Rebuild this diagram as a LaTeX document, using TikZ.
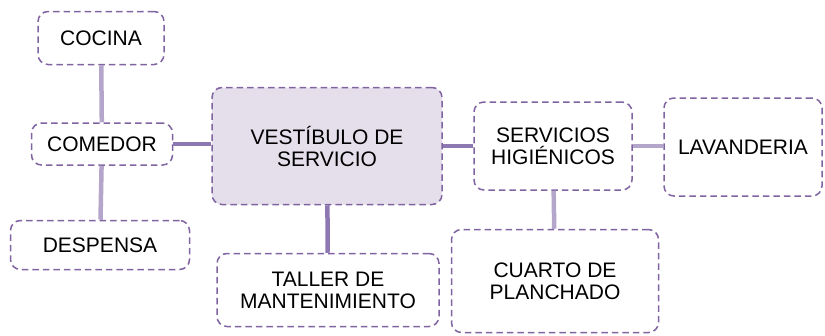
\documentclass[tikz,border=0pt]{standalone}
\usepackage{fontspec}
\setmainfont{Liberation Sans}
\definecolor{roomline}{RGB}{128,100,162}
\definecolor{roomfill}{RGB}{229,223,236}
\definecolor{linkdark}{RGB}{142,120,178}
\definecolor{linklight}{RGB}{180,165,202}
\begin{document}
\begin{tikzpicture}[x=1pt,y=-1pt,
    room/.style={draw=roomline, dash pattern=on 6.5pt off 4pt, line width=1.5pt,
      rounded corners=10pt, align=center, inner sep=0pt,
      font=\fontsize{21}{22}\selectfont},
    hub/.style={room, fill=roomfill},
    linkd/.style={draw=linkdark, line width=4.5pt},
    linkl/.style={draw=linklight, line width=4.5pt}]
      \useasboundingbox (0,0) rectangle (825,335);
      \draw
        (101,38) node[room, minimum width=126, minimum height=53] (cocina){COCINA}
        (102,144) node[room, minimum width=141, minimum height=42] (comedor){COMEDOR}
        (100,245) node[room, minimum width=179, minimum height=49] (despensa){DESPENSA}
        (327,146) node[hub, minimum width=230, minimum height=117] (vestibulo){VESTÍBULO DE\\SERVICIO}
        (328,290) node[room, minimum width=222, minimum height=73] (taller){TALLER DE\\MANTENIMIENTO}
        (553,146) node[room, minimum width=158, minimum height=88] (sshh){SERVICIOS\\HIGIÉNICOS}
        (743,147) node[room, minimum width=158, minimum height=98] (lavanderia){LAVANDERIA}
        (555,281) node[room, minimum width=207, minimum height=103] (planchado){CUARTO DE\\PLANCHADO};
      \begin{scope}[-]
        \draw[linkl] (cocina) to (comedor);
        \draw[linkl] (comedor) to (despensa);
        \draw[linkd] (comedor) to (comedor -| vestibulo.west);
        \draw[linkd] (vestibulo) to (taller);
        \draw[linkd] (vestibulo) to (sshh);
        \draw[linkl] (sshh) to (sshh -| lavanderia.west);
        \draw[linkl] (sshh) to (planchado);
      \end{scope}
    \end{tikzpicture}
\end{document}
